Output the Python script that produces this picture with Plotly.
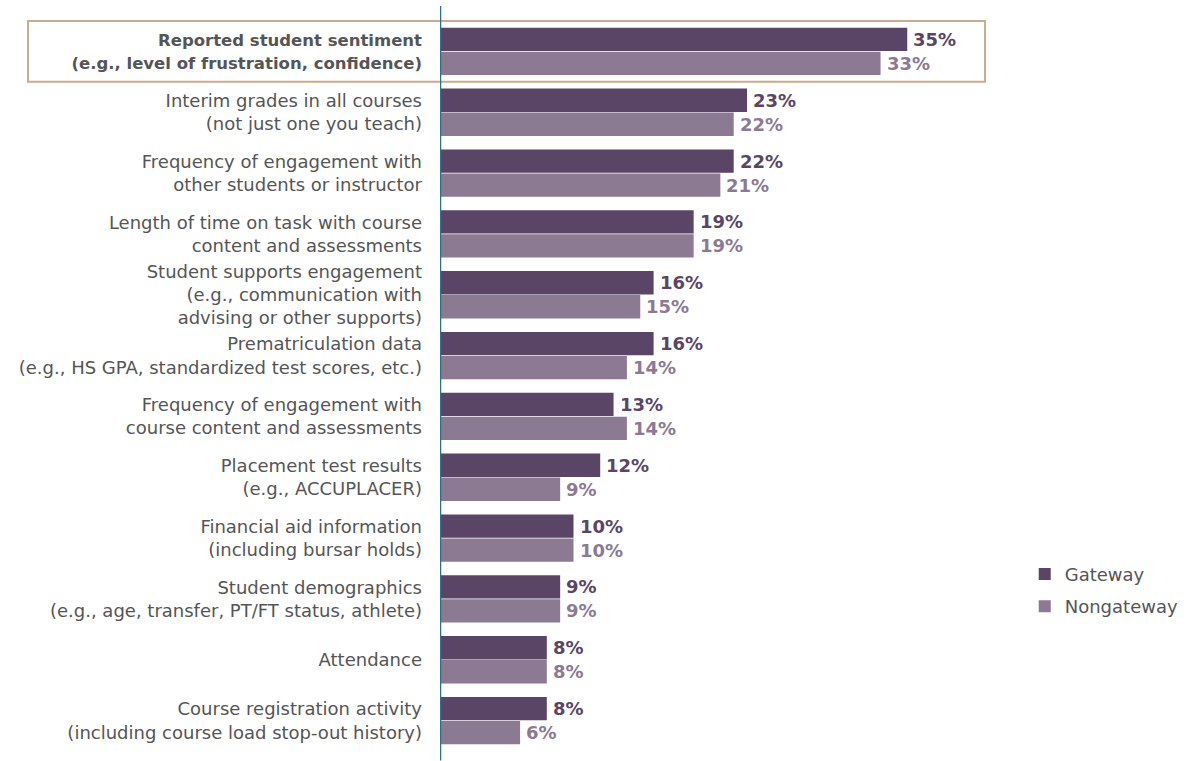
import plotly.graph_objects as go

categories = [
    "<span style='font-size:16.5px'><b>Reported student sentiment<br>"
    "(e.g., level of frustration, confidence)</b></span>",
    "Interim grades in all courses<br>(not just one you teach)",
    "Frequency of engagement with<br>other students or instructor",
    "Length of time on task with course<br>content and assessments",
    "Student supports engagement<br>(e.g., communication with<br>advising or other supports)",
    "Prematriculation data<br>(e.g., HS GPA, standardized test scores, etc.)",
    "Frequency of engagement with<br>course content and assessments",
    "Placement test results<br>(e.g., ACCUPLACER)",
    "Financial aid information<br>(including bursar holds)",
    "Student demographics<br>(e.g., age, transfer, PT/FT status, athlete)",
    "Attendance",
    "Course registration activity<br>(including course load stop-out history)",
]
gateway = [35, 23, 22, 19, 16, 16, 13, 12, 10, 9, 8, 8]
nongateway = [33, 22, 21, 19, 15, 14, 14, 9, 10, 9, 8, 6]

DARK = "#5b4566"
LIGHT = "#8c7a93"
FONT = "'DejaVu Sans', sans-serif"
SIZE = 18
BAR_OFFSET = 12  # px between group centre and each bar centre

fig = go.Figure()
fig.add_trace(go.Bar(
    y=categories, x=gateway, name="Gateway", orientation="h",
    legendgroup="g",
    marker=dict(color=DARK, line=dict(width=0)),
))
fig.add_trace(go.Bar(
    y=categories, x=nongateway, name="Nongateway", orientation="h",
    legendgroup="n",
    marker=dict(color=LIGHT, line=dict(width=0)),
))

# value labels at the end of each bar
for cat, g, n in zip(categories, gateway, nongateway):
    for val, col, shift in ((g, DARK, BAR_OFFSET), (n, LIGHT, -BAR_OFFSET)):
        fig.add_annotation(
            x=val, y=cat, xref="x", yref="y", text=f"<b>{val}%</b>",
            showarrow=False, xanchor="left", yanchor="middle",
            xshift=4, yshift=shift,
            font=dict(color=col, size=SIZE, family=FONT),
        )

# highlight box around the top item
fig.add_shape(type="rect", xref="paper", yref="y",
              x0=-412 / 534, x1=545 / 534, y0=-0.5, y1=0.5,
              line=dict(color="#c9ad8c", width=2), fillcolor="rgba(0,0,0,0)",
              layer="below")
# vertical baseline
fig.add_shape(type="line", xref="x", yref="paper",
              x0=0, x1=0, y0=-0.013, y1=1.019,
              line=dict(color="#2e6e8e", width=2.5), layer="above")

fig.update_layout(
    width=1190, height=761,
    margin=dict(l=440, r=216, t=20, b=10, autoexpand=False),
    barmode="group", bargap=0.21, bargroupgap=0.03,
    plot_bgcolor="white", paper_bgcolor="white",
    font=dict(family=FONT, size=SIZE, color="#555555"),
    showlegend=True,
    legend=dict(x=1.095, y=0.22, xanchor="left", yanchor="middle",
                font=dict(size=SIZE, color="#555555", family=FONT),
                traceorder="grouped", itemwidth=30, tracegroupgap=6),
    xaxis=dict(range=[0, 40], visible=False, fixedrange=True),
    yaxis=dict(autorange="reversed", showgrid=False, showline=False,
               zeroline=False, ticks="", ticklabelstandoff=17,
               automargin=False,
               tickfont=dict(size=SIZE, color="#555555", family=FONT)),
)

fig.write_html("out.html")
